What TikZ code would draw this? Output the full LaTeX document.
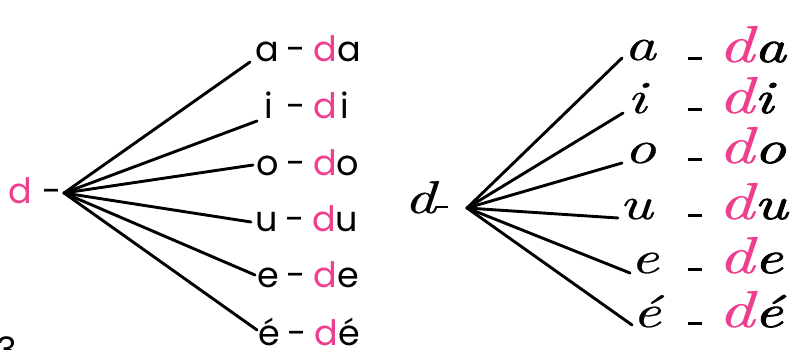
\documentclass[tikz,border=0pt]{standalone}
\usepackage{fontspec}
\setsansfont{Poppins}
\newfontfamily\cursivefont{lmroman10-italic}[Extension=.otf,FakeStretch=1.35,FakeBold=0.5]
\newfontfamily\cursivebold{lmroman10-italic}[Extension=.otf,FakeStretch=1.35,FakeBold=1.8]
\definecolor{rose}{RGB}{238,62,142}
\newcommand{\rosed}{\textcolor{rose}{\fontsize{52}{52}\selectfont d}}
\begin{document}
\begin{tikzpicture}[x=1pt,y=-1pt,
  sanslbl/.style={inner sep=0pt,anchor=base west,font=\sffamily\fontsize{35}{35}\selectfont},
  cursive/.style={inner sep=0pt,anchor=base west,font=\cursivefont\fontsize{46}{46}\selectfont},
  branch/.style={line width=2.9pt,line cap=round}]
\useasboundingbox (0,0) rectangle (791,350);
\clip (0,0) rectangle (791,350);
% ---------- left tree ----------
\coordinate (h1) at (64,193);
\node[sanslbl] (d1) at (8,203) {\textcolor{rose}{d}\hspace{0.3em}-};
\node[sanslbl] (l1) at (255,62) {a\hspace{0.22em}-\hspace{0.22em}\textcolor{rose}{d}a};
\node[sanslbl] (l2) at (264,118) {i\hspace{0.4em}-\hspace{0.22em}\textcolor{rose}{d}\hspace{0.1em}i};
\node[sanslbl] (l3) at (256,175) {o\hspace{0.22em}-\hspace{0.22em}\textcolor{rose}{d}o};
\node[sanslbl] (l4) at (255,231) {u\hspace{0.22em}-\hspace{0.22em}\textcolor{rose}{d}u};
\node[sanslbl] (l5) at (257,287) {e\hspace{0.22em}-\hspace{0.22em}\textcolor{rose}{d}e};
\node[sanslbl] (l6) at (258,345) {é\hspace{0.22em}-\hspace{0.22em}\textcolor{rose}{d}é};
\coordinate (e1) at (250,62);
\coordinate (e2) at (257,121);
\coordinate (e3) at (253,165);
\coordinate (e4) at (251,222);
\coordinate (e5) at (255,275);
\coordinate (e6) at (257,330);
\foreach \e in {e1,e2,e3,e4,e5,e6} \draw[branch] (h1) -- (\e);
\node[sanslbl] (three) at (-4,362) {3};
% ---------- right tree ----------
\coordinate (h2) at (467,208);
\node[cursive] (d2) at (404,213) {d\raisebox{5pt}{\rule{12pt}{2pt}}};
\node[cursive] (r1) at (624,60) {a};
\node[cursive] (r2) at (627,113) {i};
\node[cursive] (r3) at (624,163) {o};
\node[cursive] (r4) at (619,219) {u};
\node[cursive] (r5) at (630,273) {e};
\node[cursive] (r6) at (632,327) {é};
\node[cursive] (s1) at (688,62) {\raisebox{2pt}{\rule{14pt}{3pt}}\hspace{16pt}\rosed{\cursivebold a}};
\node[cursive] (s2) at (688,113) {\raisebox{2pt}{\rule{14pt}{3pt}}\hspace{16pt}\rosed{\cursivebold i}};
\node[cursive] (s3) at (688,163) {\raisebox{2pt}{\rule{14pt}{3pt}}\hspace{16pt}\rosed{\cursivebold o}};
\node[cursive] (s4) at (688,219) {\raisebox{2pt}{\rule{14pt}{3pt}}\hspace{16pt}\rosed{\cursivebold u}};
\node[cursive] (s5) at (688,273) {\raisebox{2pt}{\rule{14pt}{3pt}}\hspace{16pt}\rosed{\cursivebold e}};
\node[cursive] (s6) at (688,327) {\raisebox{2pt}{\rule{14pt}{3pt}}\hspace{16pt}\rosed{\cursivebold é}};
\coordinate (f1) at (622,58);
\coordinate (f2) at (623,113);
\coordinate (f3) at (622,163);
\coordinate (f4) at (618,218);
\coordinate (f5) at (630,273);
\coordinate (f6) at (632,325);
\foreach \f in {f1,f2,f3,f4,f5,f6} \draw[branch] (h2) -- (\f);
\end{tikzpicture}
\end{document}
